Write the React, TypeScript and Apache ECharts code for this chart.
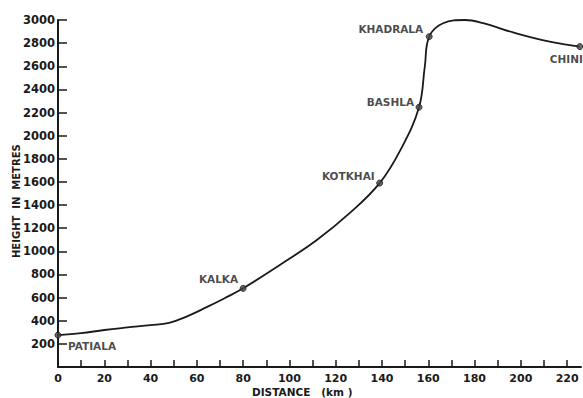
import React, { useEffect, useRef } from "react";
import * as echarts from "echarts";

// Profile curve (distance km, height m)
const profileDistance = [0, 10, 20, 30, 40, 48, 56, 64, 72, 80, 97, 112, 126, 139, 148, 156, 158.5, 160.4, 166.4, 175.8, 183.7, 198, 212.5, 225.5];
const profileHeight = [275, 292, 320, 342, 362, 382, 440, 515, 595, 680, 897, 1100, 1330, 1590, 1877, 2246, 2597, 2856, 2972, 3000, 2972, 2885, 2813, 2770];

// Named towns
const townNames = ["PATIALA", "KALKA", "KOTKHAI", "BASHLA", "KHADRALA", "CHINI"];
const townDistance = [0, 80, 139, 156, 160.4, 225.5];
const townHeight = [275, 680, 1590, 2246, 2856, 2770];

const yTicks = [200, 400, 600, 800, 1000, 1200, 1400, 1600, 1800, 2000, 2200, 2400, 2600, 2800, 3000];
const xTicks = [0, 20, 40, 60, 80, 100, 120, 140, 160, 180, 200, 220];

const labelStyle: any[] = [
  { align: "left", offset: [10, 11] },
  { align: "right", offset: [-5, -9] },
  { align: "right", offset: [-5, -7] },
  { align: "right", offset: [-5, -5] },
  { align: "right", offset: [-6, -8] },
  { align: "right", offset: [3, 12] },
];

const INK = "#1a1a1a";
const FONT = "DejaVu Sans";

export default function App() {
  const ref = useRef<HTMLDivElement>(null);
  useEffect(() => {
    if (!ref.current) return;
    const chart = echarts.init(ref.current, null, { renderer: "svg" });
    const line = profileDistance.map((d, i) => [d, profileHeight[i]]);
    const towns = townNames.map((n, i) => ({
      name: n,
      value: [townDistance[i], townHeight[i]],
      label: {
        show: true,
        position: "inside",
        formatter: n,
        verticalAlign: "middle",
        color: INK,
        fontFamily: FONT,
        fontWeight: "bold",
        fontSize: 10.5,
        ...labelStyle[i],
      },
    }));
    chart.setOption({
      animation: false,
      backgroundColor: "#ffffff",
      grid: { left: 58, right: 2, top: 20, bottom: 31, containLabel: false },
      xAxis: {
        type: "value",
        min: 0,
        max: 226,
        interval: 10,
        axisLine: { lineStyle: { color: INK, width: 2 } },
        axisTick: { inside: true, length: 7, lineStyle: { color: INK, width: 1.5 } },
        axisLabel: {
          color: INK,
          fontFamily: FONT,
          fontWeight: "bold",
          fontSize: 11,
          margin: 6,
          showMaxLabel: false,
          formatter: (v: number) => (xTicks.includes(v) ? String(v) : ""),
        },
        splitLine: { show: false },
      },
      yAxis: {
        type: "value",
        min: 0,
        max: 3000,
        interval: 200,
        axisLine: { show: true, lineStyle: { color: INK, width: 2 } },
        axisTick: { inside: true, length: 9, lineStyle: { color: INK, width: 1.5 } },
        axisLabel: {
          color: INK,
          fontFamily: FONT,
          fontWeight: "bold",
          fontSize: 11.5,
          margin: 3,
          formatter: (v: number) => (yTicks.includes(v) ? String(v) : ""),
        },
        splitLine: { show: false },
      },
      graphic: [
        {
          type: "text",
          left: 252,
          top: 386,
          style: { text: "DISTANCE   (km )", fill: INK, font: `bold 10.5px "${FONT}"` },
        },
        {
          type: "text",
          x: 11,
          y: 258,
          rotation: Math.PI / 2,
          style: { text: "HEIGHT  IN  METRES", fill: INK, font: `bold 10px "${FONT}"` },
        },
      ],
      series: [
        {
          type: "line",
          data: line,
          smooth: 0.4,
          showSymbol: false,
          lineStyle: { color: INK, width: 1.8 },
          z: 2,
        },
        {
          type: "scatter",
          data: towns,
          symbol: "circle",
          symbolSize: 6,
          itemStyle: { color: "#444", borderColor: INK, borderWidth: 1 },
          z: 3,
        },
      ],
    });
    return () => chart.dispose();
  }, []);
  return <div ref={ref} style={{ position: "absolute", left: 0, top: 0, width: 583, height: 398 }} />;
}
